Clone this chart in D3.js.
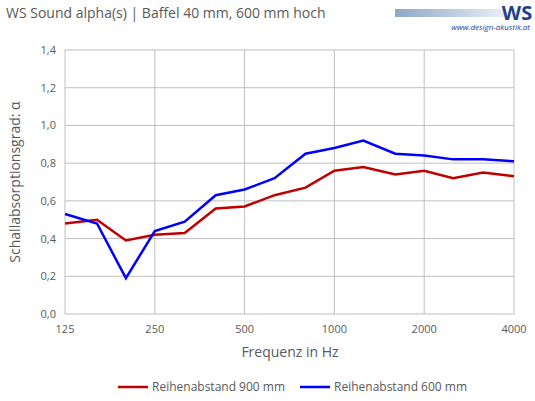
<!DOCTYPE html><html><head><meta charset="utf-8"><script src="https://cdn.jsdelivr.net/npm/d3@7"></script>
<style>body{margin:0;background:#fff}text{font-family:"Open Sans",sans-serif}</style></head><body>
<svg id="c" width="535" height="401"></svg>
<script>
const freqs=[125,160,200,250,315,400,500,630,800,1000,1250,1600,2000,2500,3150,4000];
const red900=[0.48,0.50,0.39,0.42,0.43,0.56,0.57,0.63,0.67,0.76,0.78,0.74,0.76,0.72,0.75,0.73];
const blue600=[0.53,0.48,0.19,0.44,0.49,0.63,0.66,0.72,0.85,0.88,0.92,0.85,0.84,0.82,0.82,0.81];
const xTicks=[125,250,500,1000,2000,4000];
const yTicks=[0,0.2,0.4,0.6,0.8,1.0,1.2,1.4];
const svg=d3.select("#c");
const x=d3.scaleLog().domain([125,4000]).range([65,514]);
const y=d3.scaleLinear().domain([0,1.4]).range([314,50]);
svg.append("text").attr("x",6).attr("y",18).attr("font-size",14).attr("fill","#595959").text("WS Sound alpha(s) | Baffel 40 mm, 600 mm hoch");
const g=svg.append("defs").append("linearGradient").attr("id","lg");
g.append("stop").attr("offset","0").attr("stop-color","#8fa6c8");g.append("stop").attr("offset","1").attr("stop-color","#e8eef6");
svg.append("rect").attr("x",395).attr("y",9).attr("width",110).attr("height",8).attr("fill","url(#lg)");
svg.append("text").attr("x",517).attr("y",20).attr("font-size",20).attr("font-weight","bold").attr("fill","#1f3f8f").attr("text-anchor","middle").text("WS");
svg.append("text").attr("x",530).attr("y",30).attr("font-size",8).attr("font-style","italic").attr("fill","#1f3f8f").attr("text-anchor","end").text("www.design-akustik.at");
svg.append("g").selectAll("line").data(yTicks).join("line").attr("x1",65).attr("x2",514).attr("y1",d=>y(d)).attr("y2",d=>y(d)).attr("stroke","#bfbfbf");
svg.append("g").selectAll("line").data(xTicks).join("line").attr("y1",50).attr("y2",314).attr("x1",d=>x(d)).attr("x2",d=>x(d)).attr("stroke","#bfbfbf");
svg.append("g").selectAll("text").data(yTicks).join("text").attr("x",56).attr("y",d=>y(d)+4).attr("text-anchor","end").attr("font-size",11).attr("fill","#595959").text(d=>d3.format(".1f")(d).replace(".",","));
svg.append("g").selectAll("text").data(xTicks).join("text").attr("x",d=>x(d)).attr("y",333).attr("text-anchor","middle").attr("font-size",11).attr("fill","#595959").text(d=>d);
svg.append("text").attr("x",290).attr("y",357).attr("text-anchor","middle").attr("font-size",14).attr("fill","#595959").text("Frequenz in Hz");
svg.append("text").attr("transform","translate(20,182) rotate(-90)").attr("text-anchor","middle").attr("font-size",14).attr("fill","#595959").text("Schallabsorptionsgrad: α");
const line=d3.line().x((d,i)=>x(freqs[i])).y(d=>y(d));
svg.append("path").attr("d",line(red900)).attr("fill","none").attr("stroke","#c00000").attr("stroke-width",2.5);
svg.append("path").attr("d",line(blue600)).attr("fill","none").attr("stroke","#0000ff").attr("stroke-width",2.5);
[[118,"#c00000","Reihenabstand 900 mm"],[300,"#0000ff","Reihenabstand 600 mm"]].forEach(([lx,c,t])=>{
svg.append("line").attr("x1",lx).attr("x2",lx+30).attr("y1",387).attr("y2",387).attr("stroke",c).attr("stroke-width",2.5);
svg.append("text").attr("x",lx+34).attr("y",391).attr("font-size",12).attr("fill","#595959").text(t);});
</script></body></html>
